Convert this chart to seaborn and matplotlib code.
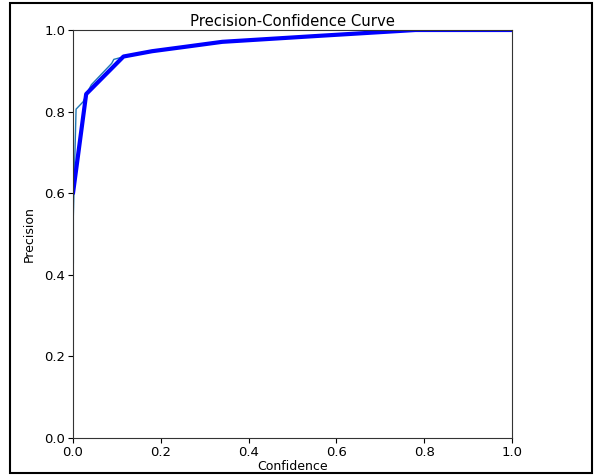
import numpy as np
import pandas as pd
import matplotlib
matplotlib.use("Agg")
import matplotlib.pyplot as plt
from matplotlib.patches import Rectangle
import seaborn as sns

# per-class curve (thin)
conf_cls = [0.0, 0.0, 0.007, 0.023, 0.035, 0.042, 0.088, 0.093, 0.107, 0.18, 0.25, 0.34, 0.55, 0.78, 1.0]
prec_cls = [0.43, 0.60, 0.806, 0.824, 0.852, 0.866, 0.918, 0.928, 0.932, 0.948, 0.958, 0.971, 0.985, 1.0, 1.0]

# all classes curve (thick)
conf_all = [0.0, 0.03, 0.115, 0.18, 0.25, 0.34, 0.55, 0.78, 1.0]
prec_all = [0.60, 0.843, 0.935, 0.948, 0.958, 0.971, 0.985, 1.0, 1.0]


def main():
    sns.set_style("ticks", {"text.color": "black", "axes.labelcolor": "black",
                            "xtick.color": "black", "ytick.color": "black"})
    plt.rcParams['font.family'] = ['DejaVu Sans']

    fig = plt.figure(figsize=(5.95, 4.76), dpi=100)
    ax = fig.add_axes([73 / 595, 1 - 438 / 476, (512 - 73) / 595, (438 - 30) / 476])

    df_cls = pd.DataFrame({"conf": conf_cls, "prec": prec_cls})
    df_all = pd.DataFrame({"conf": conf_all, "prec": prec_all})

    sns.lineplot(data=df_cls, x="conf", y="prec", sort=False, color="tab:blue", lw=1, ax=ax)
    sns.lineplot(data=df_all, x="conf", y="prec", sort=False, color="blue", lw=3, ax=ax)

    ax.set_xlim(0, 1)
    ax.set_ylim(0, 1)
    ax.set_xlabel("Confidence", fontsize=9, labelpad=1)
    ax.set_ylabel("Precision", fontsize=9, labelpad=6)
    ax.set_title("Precision-Confidence Curve", fontsize=10.7, pad=3)
    ax.tick_params(labelsize=9.5, pad=2)
    for s in ax.spines.values():
        s.set_color("0.2")
        s.set_linewidth(0.8)

    # outer frame
    fig.patches.append(Rectangle((10 / 595, 3 / 476), (592 - 10) / 595, (473 - 3) / 476,
                                 transform=fig.transFigure, fill=False,
                                 ec="black", lw=1.5))

    fig.savefig("out.png", dpi=100)


if __name__ == "__main__":
    main()
